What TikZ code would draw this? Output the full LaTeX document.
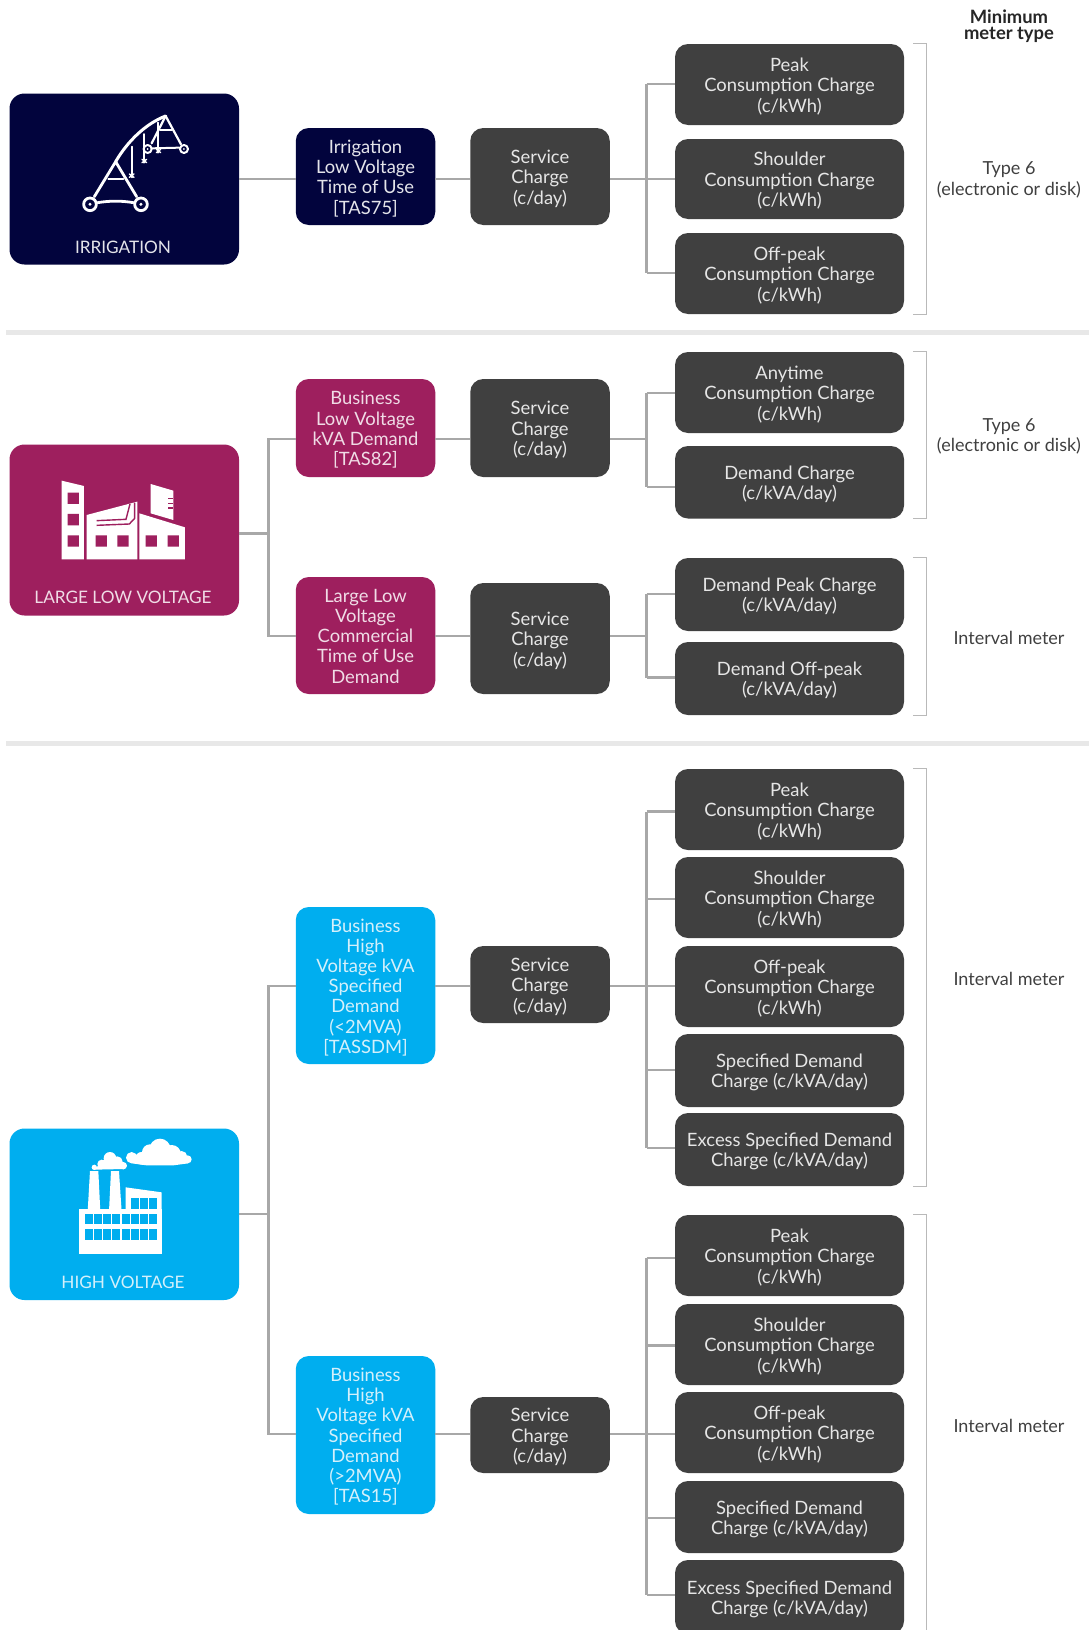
\documentclass[tikz,border=0pt]{standalone}
\usepackage{fontspec}
\setmainfont{Lato}
\usetikzlibrary{calc}
\definecolor{navybox}{HTML}{02043D}
\definecolor{plumbox}{HTML}{9E1F5E}
\definecolor{bluebox}{HTML}{00AEEF}
\definecolor{darkbox}{HTML}{404040}
\definecolor{linegrey}{HTML}{A8A8A8}
\definecolor{sepgrey}{HTML}{E8E8E8}
\definecolor{boxtext}{HTML}{E6E6E6}
\definecolor{navytext}{HTML}{E4E4EA}
\definecolor{plumtext}{HTML}{F0DCE6}
\definecolor{bluetext}{HTML}{D4F0FB}
\tikzset{
  x=1pt,y=-1pt,
  anybox/.style={rounded corners=13pt,inner sep=0pt,text=boxtext,
     font=\fontsize{18.4}{20.2}\selectfont},
  catbox/.style={anybox,minimum width=229.5pt,minimum height=171pt,rounded corners=15pt},
  catlabel/.style={inner sep=0pt,font=\fontsize{17.2}{20}\selectfont},
  tarbox/.style={anybox,minimum width=139.5pt},
  svcbox/.style={anybox,fill=darkbox,minimum width=139.5pt},
  chgbox/.style={anybox,fill=darkbox,minimum width=229pt},
  wire/.style={draw=linegrey,line width=2.1pt,line cap=square},
  sepline/.style={draw=sepgrey,line width=5pt},
  brk/.style={draw=linegrey!80,line width=1.2pt},
  meter/.style={text=darkbox,align=center,inner sep=0pt,font=\fontsize{18}{20.6}\selectfont},
  meterhead/.style={text=black!85,align=center,inner sep=0pt,font=\fontsize{18.4}{16.4}\selectfont\bfseries},
  icon/.style={draw=white,line width=2.4pt,line cap=round,line join=round},
}
\newcommand{\boxat}[6]{% style, name, y top, y bottom, x centre, text
  \node[#1,minimum height={#4-#3}] (#2) at (#5,{(#3+#4)/2})
     {\raisebox{-3.2pt}[\height][\depth]{\begin{tabular}{@{}c@{}}#6\end{tabular}}};}
\newcommand{\chg}[4]{\boxat{chgbox}{#1}{#2}{#3}{789.5}{#4}}
\newcommand{\svc}[3]{\boxat{svcbox}{#1}{#2}{#3}{540}{Service\\Charge\\(c/day)}}
\newcommand{\twig}[2]{\coordinate (k#1) at (646.5,#2); \draw[wire] (k#1) -- (#1.west |- k#1);}
\newcommand{\brkt}[2]{\draw[brk] (#1.north -| brxa) -- (#1.north -| brxb) -- (#2.south -| brxb) -- (#2.south -| brxa);}
\newcommand{\cons}{Consumption Charge\\(c/kWh)}
\begin{document}
\begin{tikzpicture}
\useasboundingbox (0,0) rectangle (1089,1630);
\fill[white] (0,0) rectangle (1089,1630);
\clip (0,0) rectangle (1089,1630);
\coordinate (brxa) at (913,0);
\coordinate (brxb) at (926.5,0);
\coordinate (sepa) at (6,332.5);
\coordinate (sepb) at (1089,332.5);
\coordinate (sepc) at (6,743);
\coordinate (sepd) at (1089,743);
\draw[sepline] (sepa) -- (sepb);
\draw[sepline] (sepc) -- (sepd);

% ---------- junctions
\coordinate (j1) at (646.5,179);
\coordinate (j2a) at (646.5,439);
\coordinate (j2b) at (646.5,636);
\coordinate (j3a) at (646.5,986);
\coordinate (j3b) at (646.5,1434);
\coordinate (t2) at (268.5,533.5);
\coordinate (t2a) at (268.5,439);
\coordinate (t2b) at (268.5,636);
\coordinate (t3) at (268.5,1214);
\coordinate (t3a) at (268.5,986);
\coordinate (t3b) at (268.5,1434);

% ---------- boxes
\boxat{catbox,fill=navybox}{cat1}{93.5}{264.5}{124.25}{}
\boxat{catbox,fill=plumbox}{cat2}{444.5}{615.5}{124.25}{}
\boxat{catbox,fill=bluebox}{cat3}{1128.5}{1300}{124.25}{}
\node[catlabel,text=navytext] (lab1) at (123,247) {IRRIGATION};
\node[catlabel,text=plumtext] (lab2) at (123,597.5) {LARGE LOW VOLTAGE};
\node[catlabel,text=bluetext] (lab3) at (123,1282.5) {HIGH VOLTAGE};

\boxat{tarbox,fill=navybox,text=navytext}{tar1}{128}{225}{365.5}{Irrigation\\Low Voltage\\Time of Use\\{}[TAS75]}
\boxat{tarbox,fill=plumbox,text=plumtext}{tar2a}{379}{477}{365.5}{Business\\Low Voltage\\kVA Demand\\{}[TAS82]}
\boxat{tarbox,fill=plumbox,text=plumtext}{tar2b}{577}{694}{365.5}{Large Low\\Voltage\\Commercial\\Time of Use\\Demand}
\boxat{tarbox,fill=bluebox,text=bluetext}{tar3a}{907}{1064}{365.5}{Business\\High\\Voltage kVA\\Specified\\Demand\\(<2MVA)\\{}[TASSDM]}
\boxat{tarbox,fill=bluebox,text=bluetext}{tar3b}{1356}{1514}{365.5}{Business\\High\\Voltage kVA\\Specified\\Demand\\(>2MVA)\\{}[TAS15]}

\svc{svc1}{128}{225}
\svc{svc2a}{379}{477}
\svc{svc2b}{583}{694}
\svc{svc3a}{946}{1023}
\svc{svc3b}{1397}{1473}

\chg{a1}{44}{125}{Peak\\\cons}
\chg{a2}{139}{219}{Shoulder\\\cons}
\chg{a3}{233}{314}{Off-peak\\\cons}
\chg{b1}{352}{433}{Anytime\\\cons}
\chg{b2}{446}{518.5}{Demand Charge\\(c/kVA/day)}
\chg{c1}{558}{631}{Demand Peak Charge\\(c/kVA/day)}
\chg{c2}{642}{715}{Demand Off-peak\\(c/kVA/day)}
\chg{d1}{769}{850}{Peak\\\cons}
\chg{d2}{857}{938}{Shoulder\\\cons}
\chg{d3}{946}{1027}{Off-peak\\\cons}
\chg{d4}{1034}{1107}{Specified Demand\\Charge (c/kVA/day)}
\chg{d5}{1113}{1186}{Excess Specified Demand\\Charge (c/kVA/day)}
\chg{e1}{1215}{1296}{Peak\\\cons}
\chg{e2}{1304}{1385}{Shoulder\\\cons}
\chg{e3}{1392}{1473}{Off-peak\\\cons}
\chg{e4}{1481}{1553}{Specified Demand\\Charge (c/kVA/day)}
\chg{e5}{1560}{1634}{Excess Specified Demand\\Charge (c/kVA/day)}

% ---------- connectors
\draw[wire] (cat1.east |- j1) -- (tar1.west |- j1);
\draw[wire] (tar1.east |- j1) -- (svc1.west |- j1);
\draw[wire] (svc1.east |- j1) -- (j1);
\twig{a1}{84.3}
\twig{a2}{179}
\twig{a3}{273.3}
\draw[wire] (ka1) -- (ka3);

\draw[wire] (cat2.east |- t2) -- (t2);
\draw[wire] (tar2a.west |- t2a) -- (t2a) -- (t2b) -- (tar2b.west |- t2b);
\draw[wire] (tar2a.east |- j2a) -- (svc2a.west |- j2a);
\draw[wire] (svc2a.east |- j2a) -- (j2a);
\twig{b1}{393}
\twig{b2}{487}
\draw[wire] (kb1) -- (kb2);
\draw[wire] (tar2b.east |- j2b) -- (svc2b.west |- j2b);
\draw[wire] (svc2b.east |- j2b) -- (j2b);
\twig{c1}{594}
\twig{c2}{677.5}
\draw[wire] (kc1) -- (kc2);

\draw[wire] (cat3.east |- t3) -- (t3);
\draw[wire] (tar3a.west |- t3a) -- (t3a) -- (t3b) -- (tar3b.west |- t3b);
\draw[wire] (tar3a.east |- j3a) -- (svc3a.west |- j3a);
\draw[wire] (svc3a.east |- j3a) -- (j3a);
\twig{d1}{811.5}
\twig{d2}{899}
\twig{d3}{986}
\twig{d4}{1070}
\twig{d5}{1148}
\draw[wire] (kd1) -- (kd5);
\draw[wire] (tar3b.east |- j3b) -- (svc3b.west |- j3b);
\draw[wire] (svc3b.east |- j3b) -- (j3b);
\twig{e1}{1258}
\twig{e2}{1345.5}
\twig{e3}{1434}
\twig{e4}{1518}
\twig{e5}{1595}
\draw[wire] (ke1) -- (ke5);

% ---------- brackets
\brkt{a1}{a3}
\brkt{b1}{b2}
\brkt{c1}{c2}
\brkt{d1}{d5}
\brkt{e1}{e5}

% ---------- meter column
\node[meterhead] (mh) at (1009,26.5) {Minimum\\meter type};
\node[meter] (m1) at (1009,180) {Type 6\\(electronic or disk)};
\node[meter] (m2) at (1009,436.5) {Type 6\\(electronic or disk)};
\node[meter] (m3) at (1009,637.5) {Interval meter};
\node[meter] (m4) at (1009,979) {Interval meter};
\node[meter] (m5) at (1009,1426) {Interval meter};

% ---------- irrigation icon
\begin{scope}[shift={(0,80)},x=0.3333pt,y=-0.3333pt]
  \draw[icon,line width=2.8pt] (270,373) circle[radius=19];
  \draw[icon,line width=2.8pt] (423,373) circle[radius=19];
  \fill[white] (270,373) circle[radius=5];
  \fill[white] (423,373) circle[radius=5];
  \draw[icon,line width=2pt] (443,207) circle[radius=12];
  \draw[icon,line width=2pt] (552,207) circle[radius=12];
  \fill[white] (443,207) circle[radius=3];
  \fill[white] (552,207) circle[radius=3];
  \draw[icon,line width=2.8pt] (283,350) -- (347,245) -- (410,350);
  \draw[icon,line width=2pt] (325,298) -- (370,298);
  \draw[icon,line width=2.8pt] (293,368) .. controls (330,362) and (365,362) .. (400,368);
  \draw[icon,line width=3pt] (347,245) .. controls (385,180) and (440,130) .. (497,108);
  \draw[icon,line width=2.2pt] (497,108) -- (455,190);
  \draw[icon,line width=2.2pt] (497,108) -- (543,193);
  \draw[icon,line width=1.8pt] (480,150) -- (515,150);
  \draw[icon,line width=2pt] (457,205) -- (538,203);
  \draw[icon,line width=1.8pt] (395,200) -- (395,292);
  \draw[icon,line width=1.8pt] (432,162) -- (432,248);
  \draw[icon,line width=1.8pt] (475,128) -- (475,218);
  \draw[icon,line width=1.4pt] (388,282) -- (402,292) (402,282) -- (388,292);
  \draw[icon,line width=1.4pt] (426,238) -- (440,248) (440,238) -- (426,248);
  \draw[icon,line width=1.4pt] (469,208) -- (482,218) (482,208) -- (469,218);
\end{scope}

% ---------- large low voltage icon
\begin{scope}[shift={(0,430)},x=0.3333pt,y=-0.3333pt]
  \fill[white] (185,152) -- (252,168) -- (252,388) -- (185,388) -- cycle;
  \fill[white] (260,255) -- (412,215) -- (412,388) -- (260,388) -- cycle;
  \fill[white] (418,250) -- (555,292) -- (555,388) -- (418,388) -- cycle;
  \fill[white] (452,162) -- (520,182) -- (520,270) -- (452,250) -- cycle;
  \fill[plumbox] (203,188) rectangle (237,222) (203,252) rectangle (237,286) (203,316) rectangle (237,350);
  \fill[plumbox] (287,316) rectangle (321,350) (352,316) rectangle (386,350);
  \fill[plumbox] (437,316) rectangle (471,350) (503,316) rectangle (537,350);
  \draw[plumbox,line width=1.4pt] (290,272) -- (378,268) -- (390,222);
  \draw[plumbox,line width=1.4pt] (290,286) -- (388,282) -- (404,265) -- (404,218);
  \draw[plumbox,line width=1.2pt] (505,206) -- (520,206) (505,220) -- (520,220) (505,234) -- (520,234);
\end{scope}

% ---------- high voltage icon
\begin{scope}[shift={(0,1115)},x=0.3333pt,y=-0.3333pt]
  \fill[white] (270,168) -- (295,168) -- (301,290) -- (263,290) -- cycle;
  \fill[white] (333,168) -- (357,168) -- (365,290) -- (327,290) -- cycle;
  \fill[white] (377,217) -- (485,232) -- (485,290) -- (377,290) -- cycle;
  \fill[white] (237,283) rectangle (485,417);
  \foreach \i in {0,...,7} {
    \fill[bluebox] ({255+\i*27.5},297) rectangle ({279+\i*27.5},328);
    \fill[bluebox] ({255+\i*27.5},343) rectangle ({279+\i*27.5},374);
  }
  \foreach \i in {0,1,2} {
    \fill[bluebox] ({393+\i*27.5},250) rectangle ({417+\i*27.5},281);
  }
  \fill[white] (283,157) circle[radius=8] (305,147) circle[radius=13] (330,130) circle[radius=19]
     (352,140) circle[radius=16] (370,152) circle[radius=11];
  \fill[white] (283,164) -- (372,162) -- (360,135) -- (310,135) -- cycle;
  \fill[white] (395,128) circle[radius=17] (425,130) circle[radius=19] (450,112) circle[radius=24]
     (480,103) circle[radius=32] (515,118) circle[radius=28] (545,125) circle[radius=17]
     (563,133) circle[radius=12] (470,135) circle[radius=15];
  \fill[white] (395,145) -- (440,151) -- (520,151) -- (565,145) -- (545,120) -- (440,110) -- cycle;
\end{scope}
\end{tikzpicture}
\end{document}
